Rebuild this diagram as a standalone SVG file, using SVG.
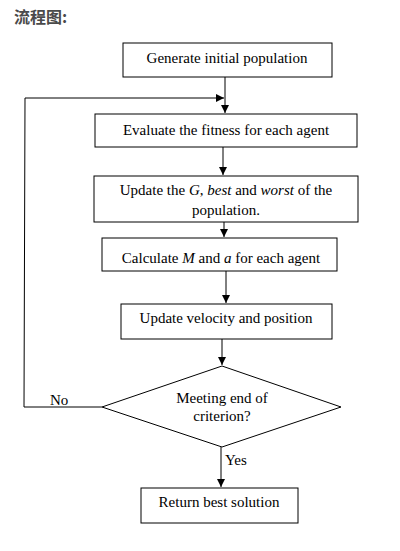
<svg xmlns="http://www.w3.org/2000/svg" width="400" height="551" viewBox="0 0 400 551">
<defs>
<marker id="ah" viewBox="0 0 10 10" refX="10" refY="5" markerWidth="8" markerHeight="8" markerUnits="userSpaceOnUse" orient="auto">
<path d="M0,0 L10,5 L0,10 z" fill="#000"/>
</marker>
<style>
.box{fill:#fff;stroke:#000;stroke-width:1}
.t{font-family:"Liberation Serif","Times New Roman",serif;font-size:15px;fill:#000;text-anchor:middle}
.l{font-family:"Liberation Serif","Times New Roman",serif;font-size:15px;fill:#000}
.c{fill:none;stroke:#000;stroke-width:1}
</style>
</defs>
<rect width="400" height="551" fill="#fff"/>
<text x="14" y="23" font-family="'Noto Sans CJK SC','Noto Sans',sans-serif" font-size="16" font-weight="bold" fill="#4a4a4a">流程图:</text>
<g id="connectors">
<line class="c" x1="225" y1="77" x2="225" y2="113" marker-end="url(#ah)"/>
<line class="c" x1="223" y1="147" x2="223" y2="175" marker-end="url(#ah)"/>
<line class="c" x1="224" y1="222" x2="224" y2="237" marker-end="url(#ah)"/>
<line class="c" x1="226" y1="271" x2="226" y2="303" marker-end="url(#ah)"/>
<line class="c" x1="222" y1="339" x2="222" y2="365" marker-end="url(#ah)"/>
<line class="c" x1="221" y1="447" x2="221" y2="487" marker-end="url(#ah)"/>
<polyline class="c" points="102,407 24,407 25,98 224,98" marker-end="url(#ah)"/>
<text class="l" x="50" y="405">No</text>
<text class="l" x="225" y="465">Yes</text>
</g>
<g id="n1"><rect class="box" x="123" y="43" width="209" height="34"/><text class="t" x="227" y="63">Generate initial population</text></g>
<g id="n2"><rect class="box" x="95" y="114" width="262" height="33"/><text class="t" x="226" y="135">Evaluate the fitness for each agent</text></g>
<g id="n3"><rect class="box" x="94" y="176" width="264" height="46"/><text class="t" x="226" y="195">Update the <tspan font-style="italic">G</tspan>, <tspan font-style="italic">best</tspan> and <tspan font-style="italic">worst</tspan> of the</text><text class="t" x="226" y="215">population.</text></g>
<g id="n4"><rect class="box" x="102" y="238" width="235" height="33"/><text class="t" x="221" y="263">Calculate <tspan font-style="italic">M</tspan> and <tspan font-style="italic">a</tspan> for each agent</text></g>
<g id="n5"><rect class="box" x="121" y="304" width="211" height="35"/><text class="t" x="226" y="323">Update velocity and position</text></g>
<g id="n6"><polygon class="box" points="222,366 341,407 222,447 102,407"/><text class="t" x="222" y="403">Meeting end of</text><text class="t" x="222" y="421">criterion?</text></g>
<g id="n7"><rect class="box" x="141" y="488" width="157" height="35"/><text class="t" x="219" y="507">Return best solution</text></g>
</svg>
